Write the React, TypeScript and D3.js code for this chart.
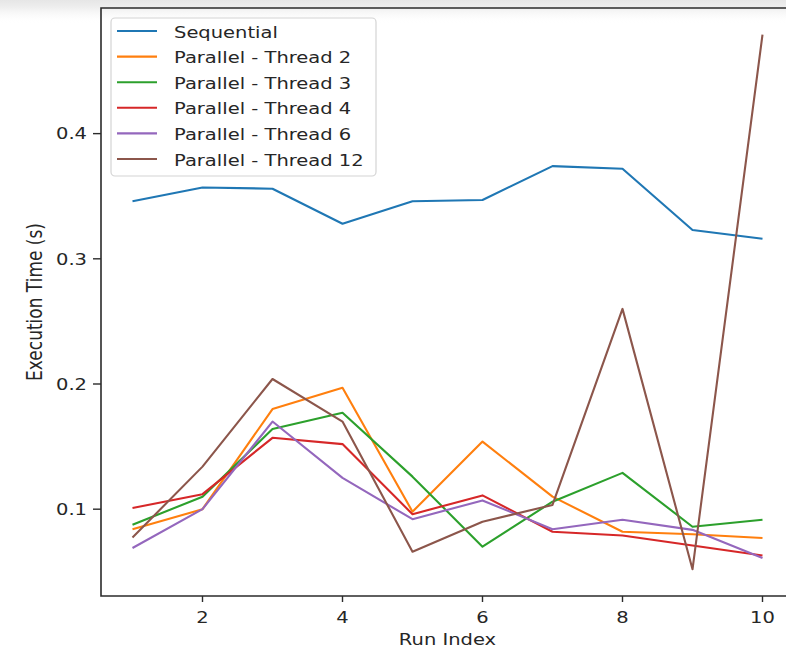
import React, { useEffect, useRef } from "react";
import * as d3 from "d3";

const runs = [1, 2, 3, 4, 5, 6, 7, 8, 9, 10];
const sequential = [0.346, 0.357, 0.356, 0.328, 0.346, 0.347, 0.374, 0.372, 0.323, 0.316];
const thread2 = [0.084, 0.1, 0.18, 0.197, 0.098, 0.154, 0.11, 0.082, 0.08, 0.077];
const thread3 = [0.0875, 0.11, 0.164, 0.177, 0.126, 0.07, 0.106, 0.129, 0.086, 0.0915];
const thread4 = [0.101, 0.112, 0.157, 0.152, 0.096, 0.111, 0.082, 0.079, 0.071, 0.063];
const thread6 = [0.069, 0.1, 0.17, 0.125, 0.092, 0.107, 0.084, 0.0915, 0.0835, 0.061];
const thread12 = [0.0774, 0.134, 0.204, 0.17, 0.066, 0.09, 0.1034, 0.26, 0.052, 0.479];

const seriesNames = [
  "Sequential",
  "Parallel - Thread 2",
  "Parallel - Thread 3",
  "Parallel - Thread 4",
  "Parallel - Thread 6",
  "Parallel - Thread 12",
];
const seriesValues = [sequential, thread2, thread3, thread4, thread6, thread12];
const colors = ["#1f77b4", "#ff7f0e", "#2ca02c", "#d62728", "#9467bd", "#8c564b"];

const xTicks = [2, 4, 6, 8, 10];
const yTicks = [0.1, 0.2, 0.3, 0.4];

const App = () => {
  const svgRef = useRef<SVGSVGElement>(null);

  useEffect(() => {
    const svg = d3.select(svgRef.current);
    svg.selectAll("*").remove();

    const width = 786;
    const height = 649;
    // the picture is stretched sideways, so the text is too
    const SX = 1.22;
    const fontSize = 16;
    const font = "DejaVu Sans";
    const textColor = "#262626";

    const plot = { left: 101, right: 794, top: 8, bottom: 596 };

    // matplotlib style 5% margins
    const allVals = seriesValues.flat();
    const yMin = d3.min(allVals) as number;
    const yMax = d3.max(allVals) as number;
    const yPad = (yMax - yMin) * 0.05;
    const xPad = (d3.max(runs)! - d3.min(runs)!) * 0.05;

    const x = d3.scaleLinear()
      .domain([d3.min(runs)! - xPad, d3.max(runs)! + xPad])
      .range([plot.left, plot.right]);
    const y = d3.scaleLinear()
      .domain([yMin - yPad, yMax + yPad])
      .range([plot.bottom, plot.top]);

    svg.attr("width", width).attr("height", height);

    // top shadow of the screenshot
    const defs = svg.append("defs");
    const grad = defs.append("linearGradient")
      .attr("id", "topShade")
      .attr("x1", 0).attr("y1", 0).attr("x2", 0).attr("y2", 1);
    grad.append("stop").attr("offset", "0").attr("stop-color", "#e6e6e6").attr("stop-opacity", 1);
    grad.append("stop").attr("offset", "0.3").attr("stop-color", "#eeeeee").attr("stop-opacity", 1);
    grad.append("stop").attr("offset", "1").attr("stop-color", "#ffffff").attr("stop-opacity", 0);
    svg.append("rect")
      .attr("x", 0).attr("y", 0)
      .attr("width", width).attr("height", 24)
      .attr("fill", "url(#topShade)");

    const stretchText = (tx: number, ty: number, str: string, anchor: string, rotate = 0, size = fontSize) => {
      svg.append("text")
        .attr("transform", `translate(${tx},${ty}) scale(${SX},1)${rotate ? ` rotate(${rotate})` : ""}`)
        .attr("text-anchor", anchor)
        .attr("font-family", font)
        .attr("font-size", size)
        .attr("fill", textColor)
        .text(str);
    };

    // lines
    const line = d3.line<number>()
      .x((_, i) => x(runs[i]))
      .y(d => y(d));

    seriesValues.forEach((vals, i) => {
      svg.append("path")
        .datum(vals)
        .attr("d", line)
        .attr("fill", "none")
        .attr("stroke", colors[i])
        .attr("stroke-width", 2.1)
        .attr("stroke-linejoin", "round");
    });

    // spines
    const spine = "#2b2b2b";
    svg.append("path")
      .attr("d", `M${plot.right},${plot.top}H${plot.left}V${plot.bottom}H${plot.right}`)
      .attr("fill", "none")
      .attr("stroke", spine)
      .attr("stroke-width", 1.6);

    // x ticks
    xTicks.forEach(t => {
      svg.append("line")
        .attr("x1", x(t)).attr("x2", x(t))
        .attr("y1", plot.bottom).attr("y2", plot.bottom + 6)
        .attr("stroke", spine).attr("stroke-width", 1.4);
      stretchText(x(t), plot.bottom + 27, String(t), "middle");
    });

    // y ticks
    yTicks.forEach(t => {
      svg.append("line")
        .attr("x1", plot.left - 8).attr("x2", plot.left)
        .attr("y1", y(t)).attr("y2", y(t))
        .attr("stroke", spine).attr("stroke-width", 1.4);
      stretchText(plot.left - 14, y(t) + 5.8, d3.format(".1f")(t), "end");
    });

    // axis labels
    stretchText((plot.left + plot.right) / 2, 645, "Run Index", "middle");
    stretchText(42, (plot.top + plot.bottom) / 2, "Execution Time (s)", "middle", -90, 17);

    // legend
    const legend = { x: 111, y: 18, w: 265, h: 158 };
    svg.append("rect")
      .attr("x", legend.x).attr("y", legend.y)
      .attr("width", legend.w).attr("height", legend.h)
      .attr("rx", 4)
      .attr("fill", "#ffffff").attr("fill-opacity", 0.85)
      .attr("stroke", "#d4d4d4").attr("stroke-width", 1.2);

    const rowY = d3.scaleLinear().domain([0, seriesNames.length - 1]).range([31, 159]);
    seriesNames.forEach((name, i) => {
      svg.append("line")
        .attr("x1", 117).attr("x2", 157)
        .attr("y1", rowY(i)).attr("y2", rowY(i))
        .attr("stroke", colors[i]).attr("stroke-width", 2.1);
      stretchText(174, rowY(i) + 6.5, name, "start");
    });
  }, []);

  return (
    <svg
      ref={svgRef}
      style={{ position: "absolute", left: 0, top: 0, background: "#fff", overflow: "hidden" }}
    />
  );
};

export default App;
